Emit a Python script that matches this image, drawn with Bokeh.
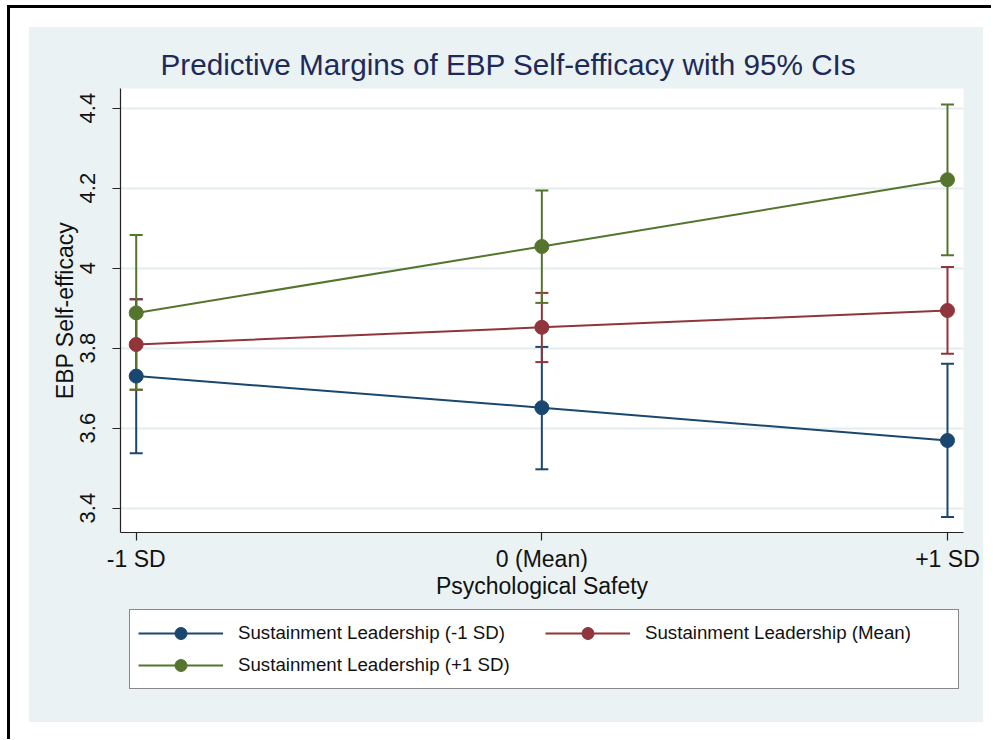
from bokeh.plotting import figure
from bokeh.models import (ColumnDataSource, Whisker, TeeHead, Range1d, FixedTicker,
                          Legend, LegendItem)
from bokeh.layouts import column
from bokeh.embed import file_html
from bokeh.resources import INLINE

# ---- data ----
categories = ["-1 SD", "0 (Mean)", "+1 SD"]
y_ticks = [3.4, 3.6, 3.8, 4.0, 4.2, 4.4]
y_tick_labels = ["3.4", "3.6", "3.8", "4", "4.2", "4.4"]

series_names = ["Sustainment Leadership (-1 SD)",
                "Sustainment Leadership (Mean)",
                "Sustainment Leadership (+1 SD)"]
series_colors = ["#1A476F", "#90353B", "#55752F"]

low_margin = [3.730, 3.651, 3.569]
low_lo = [3.537, 3.497, 3.378]
low_hi = [3.922, 3.803, 3.761]

mean_margin = [3.809, 3.852, 3.894]
mean_lo = [3.696, 3.765, 3.786]
mean_hi = [3.922, 3.938, 4.003]

high_margin = [3.888, 4.054, 4.221]
high_lo = [3.696, 3.913, 4.032]
high_hi = [4.083, 4.194, 4.409]

margins = [low_margin, mean_margin, high_margin]
lows = [low_lo, mean_lo, high_lo]
highs = [low_hi, mean_hi, high_hi]

FONT = "Liberation Sans"
BG = "#EAF2F3"

xs = list(range(len(categories)))

# ---- main chart ----
p = figure(width=954, height=580, output_backend="svg", toolbar_location=None,
           x_range=Range1d(-0.0387, 2.0395), y_range=Range1d(3.339, 4.449),
           min_border_left=91, min_border_right=20, min_border_top=61,
           min_border_bottom=75)
p.border_fill_color = BG
p.background_fill_color = "white"
p.outline_line_color = None

p.title.text = "Predictive Margins of EBP Self-efficacy with 95% CIs"
p.title.text_font = FONT
p.title.text_font_size = "29.7px"
p.title.text_font_style = "normal"
p.title.text_color = "#1E2A5A"
p.title.align = "left"
p.title.offset = 40
p.title.standoff = 16

for ax in (p.xaxis[0], p.yaxis[0]):
    ax.axis_line_color = "#222222"
    ax.axis_line_width = 1.2
    ax.major_tick_line_color = "#222222"
    ax.major_tick_line_width = 1.2
    ax.major_tick_in = 0
    ax.major_tick_out = 8
    ax.minor_tick_line_color = None
    ax.major_label_text_font = FONT
    ax.major_label_text_color = "#111111"
    ax.axis_label_text_font = FONT
    ax.axis_label_text_font_size = "23px"
    ax.axis_label_text_font_style = "normal"
    ax.axis_label_text_color = "#111111"

p.xaxis.ticker = FixedTicker(ticks=xs)
p.xaxis.major_label_overrides = {x: c for x, c in zip(xs, categories)}
p.xaxis.major_label_text_font_size = "23px"
p.xaxis.axis_label = "Psychological Safety"
p.xaxis.major_label_standoff = 5
p.xaxis.axis_label_standoff = -2

p.yaxis.ticker = FixedTicker(ticks=y_ticks)
p.yaxis.major_label_overrides = {t: l for t, l in zip(y_ticks, y_tick_labels)}
p.yaxis.major_label_text_font_size = "22px"
p.yaxis.major_label_orientation = "vertical"
p.yaxis.axis_label = "EBP Self-efficacy"
p.yaxis.major_label_standoff = 17
p.yaxis.axis_label_standoff = 0

p.xgrid.grid_line_color = None
p.ygrid.grid_line_color = "#E3EDF0"
p.ygrid.grid_line_width = 2

for m, lo, hi, col in zip(margins, lows, highs, series_colors):
    src = ColumnDataSource(dict(x=xs, lower=lo, upper=hi))
    w = Whisker(base="x", lower="lower", upper="upper", source=src,
                line_color=col, line_width=2, level="underlay",
                upper_head=TeeHead(size=13, line_color=col, line_width=2),
                lower_head=TeeHead(size=13, line_color=col, line_width=2))
    p.add_layout(w)

sources = []
for m, col in zip(margins, series_colors):
    src = ColumnDataSource(dict(x=xs, y=m))
    sources.append(src)
    p.line("x", "y", source=src, line_color=col, line_width=2)
    p.scatter("x", "y", source=src, size=14, fill_color=col, line_color=col)

# ---- legend strip (same sources, glyphs kept out of view) ----
q = figure(width=954, height=115, output_backend="svg", toolbar_location=None,
           x_axis_type=None, y_axis_type=None, title=None,
           x_range=Range1d(100, 101), y_range=Range1d(100, 101),
           min_border=0)
q.border_fill_color = BG
q.background_fill_color = None
q.outline_line_color = None

items = []
for src, name, col in zip(sources, series_names, series_colors):
    lr = q.line("x", "y", source=src, line_color=col, line_width=2)
    sr = q.scatter("x", "y", source=src, size=14, fill_color=col, line_color=col)
    items.append(LegendItem(label=name, renderers=[lr, sr]))

legend = Legend(items=items, ncols=2, orientation="horizontal", location=(9, 33),
                label_text_font=FONT, label_text_font_size="18.7px",
                label_text_color="#111111",
                glyph_width=85, glyph_height=30, label_height=30,
                label_width=305, label_standoff=15,
                spacing=2, padding=8, margin=0,
                border_line_color="#111111", border_line_width=1.2,
                background_fill_color="white", background_fill_alpha=1.0)
q.add_layout(legend)

inner = column(p, q, spacing=0, margin=(19, 8, 17, 19),
               styles={"background-color": BG})
layout = column(inner, margin=(5, 0, 0, 7),
                styles={"border-left": "3px solid black",
                        "border-top": "3px solid black"})

open("out.html", "w").write(file_html(layout, INLINE))
